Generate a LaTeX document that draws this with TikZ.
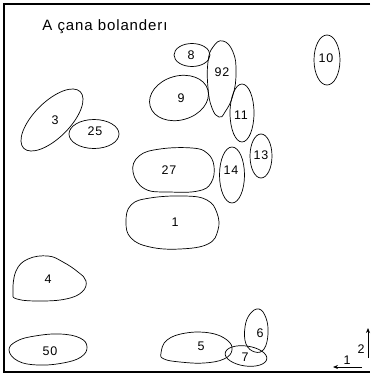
\documentclass[tikz,border=0pt]{standalone}
\usepackage{fontspec}
\setmainfont[LetterSpace=6]{Liberation Sans}
\usetikzlibrary{arrows.meta}
\begin{document}
\begin{tikzpicture}[x=1pt,y=-1pt,
  blob/.style={draw, line width=0.7pt},
  lbl/.style={font=\fontsize{12.5}{12.5}\selectfont, inner sep=0pt},
  ttl/.style={font=\fontsize{15}{15}\selectfont, inner sep=0pt},
  frame/.style={line width=2.4pt},
  ax/.style={line width=0.8pt, -{Stealth[length=5pt,width=4pt]}}]
\useasboundingbox (0,0) rectangle (370,375);
% frame
\draw[frame] (370,4) -- (4,4) -- (4,372) -- (370,372);
% title
\node[ttl] (title) at (105,27) {A çana bolanderı};
% blobs
\draw[blob] (192,55) ellipse [x radius=18, y radius=11.5];
\draw[blob] plot[smooth cycle, tension=0.8] coordinates {(223,41) (233,52) (236,72) (233,95) (225,112) (219,117) (212,108) (208,88) (208,62) (213,47)};
\draw[blob, rotate around={16:(179,98)}] (179,98) ellipse [x radius=30, y radius=22];
\draw[blob] (242,113) ellipse [x radius=12, y radius=29];
\draw[blob] (327,60) ellipse [x radius=13, y radius=25];
\draw[blob] (261,156) ellipse [x radius=11, y radius=22];
\draw[blob] (232,175) ellipse [x radius=12.5, y radius=28];
\draw[blob, rotate around={45:(52,120)}] (52,120) ellipse [x radius=40, y radius=18];
\draw[blob] (94,134) ellipse [x radius=25, y radius=14.5];
\draw[blob] plot[smooth cycle, tension=0.7] coordinates {(133,172) (139,156) (160,149) (192,148) (207,153) (214,166) (211,183) (198,191) (170,192) (145,189)};
\draw[blob] plot[smooth cycle, tension=0.7] coordinates {(126,222) (131,205) (150,198) (185,196) (207,200) (217,213) (218,230) (208,244) (180,249) (150,247) (131,238)};
\draw[blob] plot[smooth cycle, tension=0.7] coordinates {(13,292) (16,271) (28,259) (48,256) (63,262) (78,272) (86,281) (82,292) (66,299) (40,301) (17,299)};
\draw[blob] plot[smooth cycle, tension=0.7] coordinates {(9,350) (17,341) (35,336) (60,334) (80,338) (87,347) (81,357) (63,363) (38,365) (18,361)};
\draw[blob] plot[smooth cycle, tension=0.7] coordinates {(161,353) (167,340) (186,333) (210,333) (227,340) (232,350) (224,359) (204,363) (180,362) (164,359)};
\draw[blob] plot[smooth cycle, tension=0.7] coordinates {(259,309) (266,318) (268,334) (264,349) (255,352) (246,344) (245,327) (250,314)};
\draw[blob, rotate around={-8:(246,356)}] (246,356) ellipse [x radius=21, y radius=10];
% labels
\node[lbl] (l8) at (191,55) {8};
\node[lbl] (l92) at (222,72) {92};
\node[lbl] (l9) at (181,98) {9};
\node[lbl] (l11) at (241,115) {11};
\node[lbl] (l10) at (326,58) {10};
\node[lbl] (l13) at (261,155) {13};
\node[lbl] (l14) at (231,170) {14};
\node[lbl] (l3) at (55,120) {3};
\node[lbl] (l25) at (95,131) {25};
\node[lbl] (l27) at (169,170) {27};
\node[lbl] (l1) at (175,222) {1};
\node[lbl] (l4) at (48,279) {4};
\node[lbl] (l50) at (50,351) {50};
\node[lbl] (l5) at (201,346) {5};
\node[lbl] (l6) at (260,333) {6};
\node[lbl] (l7) at (245,357) {7};
% axes
\coordinate (vb) at (368,358);
\coordinate (vt) at (368,328);
\draw[ax] (vb) -- (vt);
\coordinate (hr) at (362,367);
\coordinate (hl) at (333,367);
\draw[ax] (hr) -- (hl);
\node[lbl] (a2) at (361,349) {2};
\node[lbl] (a1) at (347,360) {1};
\end{tikzpicture}
\end{document}
